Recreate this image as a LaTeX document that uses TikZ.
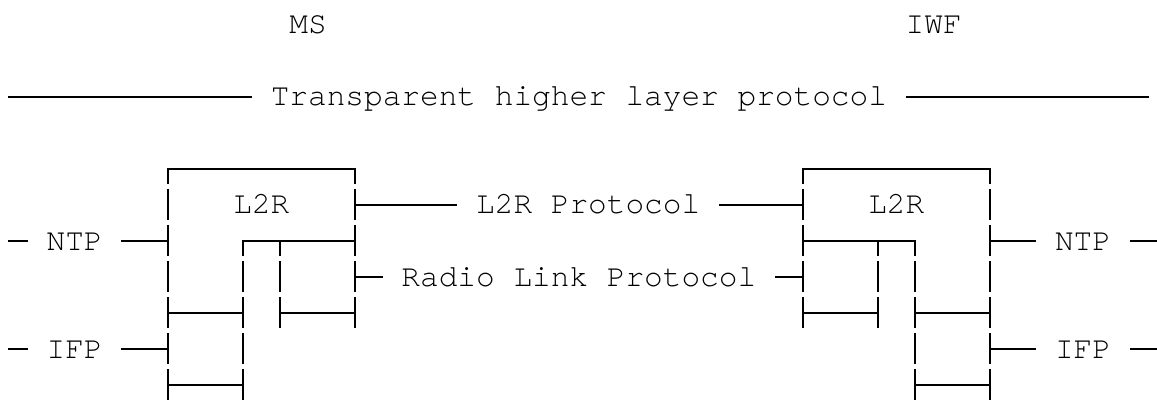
\documentclass[tikz,border=0pt]{standalone}
\usepackage{fontspec}
\newfontfamily\cursorfont{TeX Gyre Cursor}
\newcommand{\asciifont}{\cursorfont\fontsize{15.56pt}{18pt}\selectfont}

\begin{document}
\begin{tikzpicture}[x=9.3365pt, y=-18pt, line width=0.95pt, line cap=rect,
    lbl/.style={font=\asciifont, inner xsep=9.3365pt, inner ysep=0pt, text height=11.5pt, text depth=2.5pt},
    vline/.style={line cap=butt, dash pattern=on 15.5pt off 2.5pt, dash phase=8pt}]
    \useasboundingbox (-0.998,-0.694) rectangle (60.96,10.389);

    \coordinate (T1) at (-0.5,2);
    \coordinate (T2) at (60.5,2);
    \coordinate (NL0) at (-0.5,6);
    \coordinate (NL1) at (8,6);
    \coordinate (NR0) at (52,6);
    \coordinate (NR1) at (60.96,6);
    \coordinate (IL0) at (-0.5,9);
    \coordinate (IL1) at (8,9);
    \coordinate (IR0) at (52,9);
    \coordinate (IR1) at (60.96,9);
    \coordinate (PL) at (18,5);
    \coordinate (PR) at (42,5);
    \coordinate (RL) at (18,7);
    \coordinate (RR) at (42,7);

    \node[lbl] (MS) at (15.5,0) {MS};
    \node[lbl] (IWF) at (49,0) {IWF};
    \node[lbl] (THLP) at (30,2) {Transparent higher layer protocol};
    \node[lbl] (L2Ra) at (13,5) {L2R};
    \node[lbl] (L2Rb) at (47,5) {L2R};
    \node[lbl] (L2RP) at (30.5,5) {L2R Protocol};
    \node[lbl] (RLP) at (30,7) {Radio Link Protocol};
    \node[lbl] (NTPa) at (3,6) {NTP};
    \node[lbl] (NTPb) at (57,6) {NTP};
    \node[lbl] (IFPa) at (3,9) {IFP};
    \node[lbl] (IFPb) at (57,9) {IFP};

    \draw (T1) -- (THLP.west);
    \draw (THLP.east) -- (T2);
    \draw (NL0) -- (NTPa.west);
    \draw (NTPa.east) -- (NL1);
    \draw (NR0) -- (NTPb.west);
    \draw (NTPb.east) -- (NR1);
    \draw (IL0) -- (IFPa.west);
    \draw (IFPa.east) -- (IL1);
    \draw (IR0) -- (IFPb.west);
    \draw (IFPb.east) -- (IR1);
    \draw (PL) -- (L2RP.west);
    \draw (L2RP.east) -- (PR);
    \draw (RL) -- (RLP.west);
    \draw (RLP.east) -- (RR);

    \draw[vline] (8,4) -- (8,10.42);
    \draw[vline] (18,4) -- (18,8.42);
    \draw[vline] (12,6) -- (12,10.42);
    \draw[vline] (14,6) -- (14,8.42);
    \draw (8,4) -- (18,4);
    \draw (12,6) -- (18,6);
    \draw (8,8) -- (12,8);
    \draw (14,8) -- (18,8);
    \draw (8,10) -- (12,10);

    \draw[vline] (42,4) -- (42,8.42);
    \draw[vline] (52,4) -- (52,10.42);
    \draw[vline] (46,6) -- (46,8.42);
    \draw[vline] (48,6) -- (48,10.42);
    \draw (42,4) -- (52,4);
    \draw (42,6) -- (48,6);
    \draw (42,8) -- (46,8);
    \draw (48,8) -- (52,8);
    \draw (48,10) -- (52,10);
\end{tikzpicture}
\end{document}
